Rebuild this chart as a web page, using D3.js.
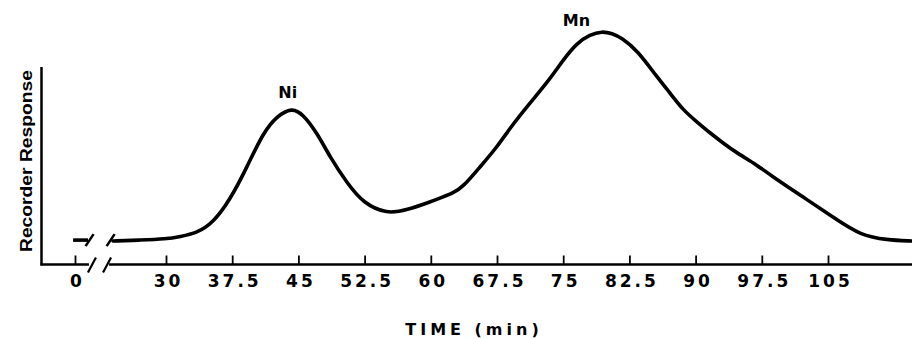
<!DOCTYPE html>
<html>
<head>
<meta charset="utf-8">
<script src="https://cdn.jsdelivr.net/npm/d3@7"></script>
<style>
  body { margin: 0; background: #fff; }
  svg { display: block; }
  text { font-family: "DejaVu Sans", "Liberation Sans", sans-serif; font-weight: bold; fill: #000; }
</style>
</head>
<body>
<svg id="chart"></svg>
<script>
var width = 912;
var height = 339;

// elution time (min) and recorder response (arbitrary units)
const timeMin = [24.0, 27.05, 30.0, 31.59, 33.51, 35.32, 37.25, 39.18, 40.99, 42.58,
  44.27, 45.52, 47.11, 48.58, 50.51, 52.32, 55.04, 57.30, 59.91, 61.38,
  62.51, 63.65, 65.57, 67.50, 68.97, 71.24, 73.50, 74.98, 76.56, 78.04,
  79.40, 80.53, 81.66, 83.36, 85.63, 87.10, 88.57, 90.16, 91.63, 93.10,
  94.69, 96.96, 98.43, 102.17, 106.02, 108.63, 111.68, 114.52];
const response = [9.9, 10.3, 10.8, 11.8, 13.4, 17.7, 27.6, 41.8, 56.5, 63.8,
  67.4, 64.6, 56.5, 46.1, 34.9, 26.3, 21.5, 23.3, 26.7, 28.9,
  30.6, 33.2, 41.8, 50.4, 58.6, 69.4, 79.7, 87.9, 95.3, 98.9,
  100.3, 99.4, 97.4, 92.2, 80.6, 73.7, 66.4, 61.2, 56.5, 52.2,
  47.8, 42.7, 38.4, 28.9, 19.0, 12.5, 10.3, 9.9];

// short baseline piece before the axis break
const stubTime = [-1.2, 8.2];
const stubResp = [10.3, 10.3];

const tickValues = [0, 30, 37.5, 45, 52.5, 60, 67.5, 75, 82.5, 90, 97.5, 105];
const tickLabels = ["0", "30", "37.5", "45", "52.5", "60", "67.5", "75", "82.5", "90", "97.5", "105"];

const peakNames = ["Ni", "Mn"];
const peakTime = [43.8, 76.5];
const peakResp = [71.5, 102.5];

var svg = d3.select("#chart").attr("width", width).attr("height", height);

// broken time axis: 0..24 squeezed, linear from 24 on
var x = d3.scaleLinear().domain([0, 24, 30, 105]).range([75, 113, 166, 828]);
var y = d3.scaleLinear().domain([0, 100]).range([264, 32]);

var axisY = y(0) + 0.5;

// vertical axis
svg.append("line")
  .attr("x1", 41.5).attr("x2", 41.5)
  .attr("y1", 67).attr("y2", axisY + 1)
  .attr("stroke", "#000").attr("stroke-width", 2.5);

// horizontal axis in two pieces around the break
var breakL = x(8.8), breakR = x(21.5);
svg.append("line")
  .attr("x1", 40.5).attr("x2", breakL)
  .attr("y1", axisY).attr("y2", axisY)
  .attr("stroke", "#000").attr("stroke-width", 2.5);
svg.append("line")
  .attr("x1", breakR).attr("x2", width)
  .attr("y1", axisY).attr("y2", axisY)
  .attr("stroke", "#000").attr("stroke-width", 2.5);

// break slashes on the axis
[breakL + 3, breakR - 2].forEach(cx => {
  svg.append("line")
    .attr("x1", cx - 4).attr("y1", axisY + 8)
    .attr("x2", cx + 4).attr("y2", axisY - 7)
    .attr("stroke", "#000").attr("stroke-width", 2.2);
});

var xAxis = d3.axisBottom(x)
  .tickValues(tickValues)
  .tickFormat((d, i) => tickLabels[i])
  .tickSizeInner(-9)
  .tickSizeOuter(0)
  .tickPadding(10);

var gx = svg.append("g")
  .attr("transform", `translate(0,${axisY})`)
  .call(xAxis);
gx.select(".domain").remove();
gx.selectAll(".tick line").attr("stroke", "#000").attr("stroke-width", 1.8);
gx.selectAll(".tick text")
  .attr("fill", "#000")
  .attr("dx", "2px")
  .style("font-family", "'DejaVu Sans', sans-serif")
  .style("font-weight", "bold")
  .style("font-size", "17px")
  .style("letter-spacing", "3px");

// the trace (pen recorder, so smooth it out)
var line = d3.line()
  .x(d => x(d[0]))
  .y(d => y(d[1]))
  .curve(d3.curveBasis);

svg.append("path")
  .datum(timeMin.map((t, i) => [t, response[i]]))
  .attr("fill", "none")
  .attr("stroke", "#000")
  .attr("stroke-width", 3.6)
  .attr("stroke-linecap", "round")
  .attr("d", line);

svg.append("path")
  .datum(stubTime.map((t, i) => [t, stubResp[i]]))
  .attr("fill", "none")
  .attr("stroke", "#000")
  .attr("stroke-width", 3.6)
  .attr("d", d3.line().x(d => x(d[0])).y(d => y(d[1])));

// break slashes on the trace
var traceY = y(10.3);
[x(9.2), x(22.5)].forEach(cx => {
  svg.append("line")
    .attr("x1", cx - 4).attr("y1", traceY + 6)
    .attr("x2", cx + 4).attr("y2", traceY - 6)
    .attr("stroke", "#000").attr("stroke-width", 2.5);
});

// peak labels
svg.selectAll(".peak")
  .data(peakNames)
  .enter()
  .append("text")
  .attr("class", "peak")
  .attr("x", (d, i) => x(peakTime[i]))
  .attr("y", (d, i) => y(peakResp[i]))
  .attr("text-anchor", "middle")
  .style("font-size", "16px")
  .text(d => d);

// axis titles
svg.append("text")
  .attr("x", 474)
  .attr("y", 335)
  .attr("text-anchor", "middle")
  .style("font-size", "16px")
  .style("letter-spacing", "4px")
  .text("TIME (min)");

svg.append("text")
  .attr("transform", "translate(32,161) rotate(-90)")
  .attr("text-anchor", "middle")
  .attr("textLength", 182)
  .attr("lengthAdjust", "spacingAndGlyphs")
  .style("font-family", "'Liberation Sans Narrow', 'Liberation Sans', sans-serif")
  .style("font-size", "17px")
  .text("Recorder Response");
</script>
</body>
</html>
